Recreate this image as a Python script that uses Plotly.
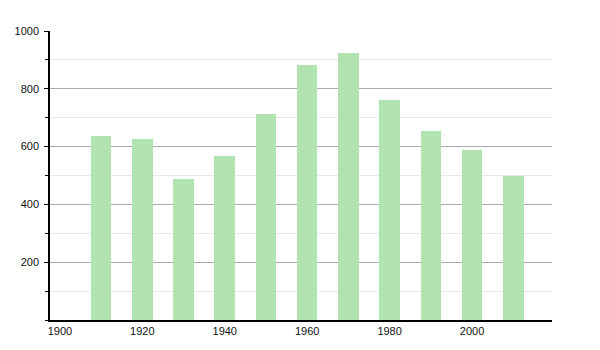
import plotly.graph_objects as go

years = [1910, 1920, 1930, 1940, 1950, 1960, 1970, 1980, 1990, 2000, 2010]
values = [637, 626, 487, 567, 713, 882, 923, 761, 654, 588, 500]
x_ticks = [1900, 1920, 1940, 1960, 1980, 2000]
y_ticks = [200, 400, 600, 800, 1000]

fig = go.Figure()
fig.add_trace(go.Bar(
    x=years, y=values, width=5,
    marker=dict(color="rgb(176,227,176)", line=dict(width=0)),
    hoverinfo="x+y",
))

fig.update_layout(
    width=600, height=350,
    margin=dict(l=50, r=48, t=31, b=30),
    paper_bgcolor="white", plot_bgcolor="white",
    showlegend=False,
    font=dict(family="Liberation Sans, Arial, sans-serif", size=11, color="#111"),
    bargap=0,
)
fig.update_xaxes(
    range=[1897.6, 2019.4],
    tickvals=x_ticks, ticktext=[str(t) for t in x_ticks],
    showgrid=False, zeroline=False,
    showline=True, linecolor="black", linewidth=1.5,
    ticks="", ticklabelstandoff=0,
)
fig.update_yaxes(
    range=[0, 1000],
    tickvals=y_ticks, ticktext=[str(t) for t in y_ticks],
    showgrid=True, gridcolor="#aaaaaa", gridwidth=1,
    zeroline=False,
    showline=True, linecolor="black", linewidth=1.5,
    ticks="outside", ticklen=4, tickcolor="black",
    ticklabelstandoff=3,
    minor=dict(dtick=100, showgrid=True, gridcolor="#e8e8e8", ticks="outside", ticklen=3, tickcolor="black"),
)

fig.write_html("out.html")
